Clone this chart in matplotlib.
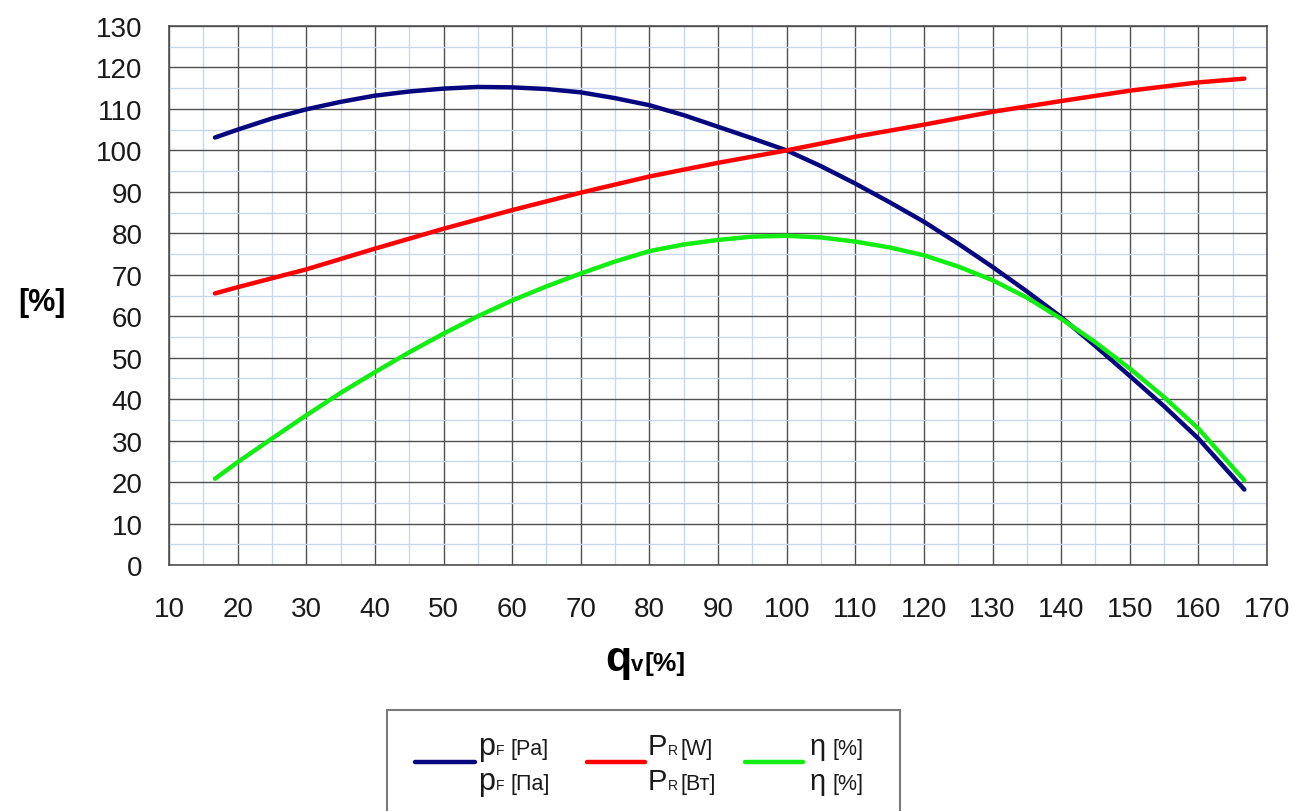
import numpy as np
import matplotlib as mpl
mpl.use("Agg")
import matplotlib.pyplot as plt
from matplotlib.lines import Line2D
from matplotlib.patches import Rectangle
import matplotlib.ticker as ticker

plt.rcParams['font.family'] = ['Liberation Sans', 'DejaVu Sans']

# flow q_v [%]
q_fine = [16.7, 20, 25, 30, 35, 40, 45, 50, 55, 60, 65, 70, 75, 80, 85, 90, 95,
          100, 105, 110, 115, 120, 125, 130, 135, 140, 145, 150, 155, 160, 166.7]
q_coarse = [16.7, 20, 30, 40, 50, 60, 70, 80, 90, 100, 110, 120, 130, 140, 150, 160, 166.7]

# pressure p_F [%]
p_f = [103.1, 105.0, 107.7, 109.9, 111.7, 113.2, 114.2, 114.9, 115.3, 115.2, 114.8,
       114.0, 112.6, 110.9, 108.5, 105.7, 102.9, 100.0, 96.2, 92.0, 87.5, 82.8,
       77.5, 71.9, 66.0, 59.8, 52.8, 45.6, 38.3, 30.5, 18.2]
# power P_R [%]
p_r = [65.5, 67.0, 71.3, 76.3, 81.1, 85.6, 89.8, 93.7, 97.0, 100.0, 103.3, 106.2,
       109.3, 111.9, 114.4, 116.4, 117.3]
# efficiency eta [%]
eta = [20.8, 24.8, 30.5, 36.1, 41.5, 46.5, 51.3, 55.8, 60.0, 63.8, 67.2, 70.3,
       73.2, 75.7, 77.3, 78.4, 79.2, 79.4, 79.0, 78.0, 76.6, 74.7, 72.0, 68.7,
       64.5, 59.4, 53.7, 47.4, 40.5, 32.9, 20.4]

c_blue = '#06067e'
c_red = '#ff0000'
c_green = '#12ee12'

W, H = 1294, 812
fig = plt.figure(figsize=(W / 100, H / 100), dpi=100)
ax = fig.add_axes([169 / W, 1 - 566 / H, (1267 - 169) / W, (566 - 27) / H])

ax.set_xlim(10, 170)
ax.set_ylim(0, 130)
ax.xaxis.set_major_locator(ticker.MultipleLocator(10))
ax.xaxis.set_minor_locator(ticker.MultipleLocator(5))
ax.yaxis.set_major_locator(ticker.MultipleLocator(10))
ax.yaxis.set_minor_locator(ticker.MultipleLocator(5))
ax.grid(which='minor', color='#c9d7ec', lw=1.0)
ax.grid(which='major', color='#505050', lw=1.0)
ax.set_axisbelow(True)
for s in ax.spines.values():
    s.set_color('#505050')
    s.set_linewidth(1.2)
ax.tick_params(which='both', length=0)
ax.tick_params(axis='x', pad=22, labelsize=20, labelcolor='#1a1a1a')
ax.tick_params(axis='y', pad=19, labelsize=20, labelcolor='#1a1a1a')

kw = dict(lw=3.2, solid_capstyle='round')
ax.plot(q_fine, p_f, color=c_blue, zorder=3, **kw)
ax.plot(q_coarse, p_r, color=c_red, zorder=3, **kw)
ax.plot(q_fine, eta, color=c_green, zorder=4, **kw)


def px(x, y):
    return x / W, 1 - y / H


# axis labels
fig.text(*px(42, 303), '[%]', fontsize=22, fontweight='bold', ha='center', va='center')
fig.text(*px(605, 671), 'q', fontsize=31, fontweight='bold', va='baseline')
fig.text(*px(631, 671), 'v', fontsize=16, fontweight='bold', va='baseline')
fig.text(*px(644, 671), '[%]', fontsize=19, fontweight='bold', va='baseline')

# legend box
fig.patches.append(Rectangle(px(387, 830), (900 - 387) / W, (830 - 711) / H,
                             transform=fig.transFigure, fill=False,
                             edgecolor='#7a7a7a', lw=1.5))
for x0, x1, c in [(415, 475, c_blue), (587, 645, c_red), (745, 803, c_green)]:
    fig.lines.append(Line2D([x0 / W, x1 / W], [1 - 763 / H] * 2, color=c,
                            lw=3.2, solid_capstyle='round', transform=fig.transFigure))

tc = '#1a1a1a'
for yb, u1, u2 in [(755, '[Pa]', '[W]'), (790, '[Па]', '[Вт]')]:
    fig.text(*px(478, yb), 'p', fontsize=22, color=tc, va='baseline')
    fig.text(*px(496, yb), 'F', fontsize=10, color=tc, va='baseline')
    fig.text(*px(510, yb), u1, fontsize=15.5, color=tc, va='baseline')
    fig.text(*px(648, yb), 'P', fontsize=21, color=tc, va='baseline')
    fig.text(*px(668, yb), 'R', fontsize=10, color=tc, va='baseline')
    fig.text(*px(681, yb), u2, fontsize=15.5, color=tc, va='baseline')
    fig.text(*px(810, yb), 'η', fontsize=21, color=tc, va='baseline')
    fig.text(*px(832, yb), '[%]', fontsize=15.5, color=tc, va='baseline')

fig.savefig('out.png', dpi=100)
